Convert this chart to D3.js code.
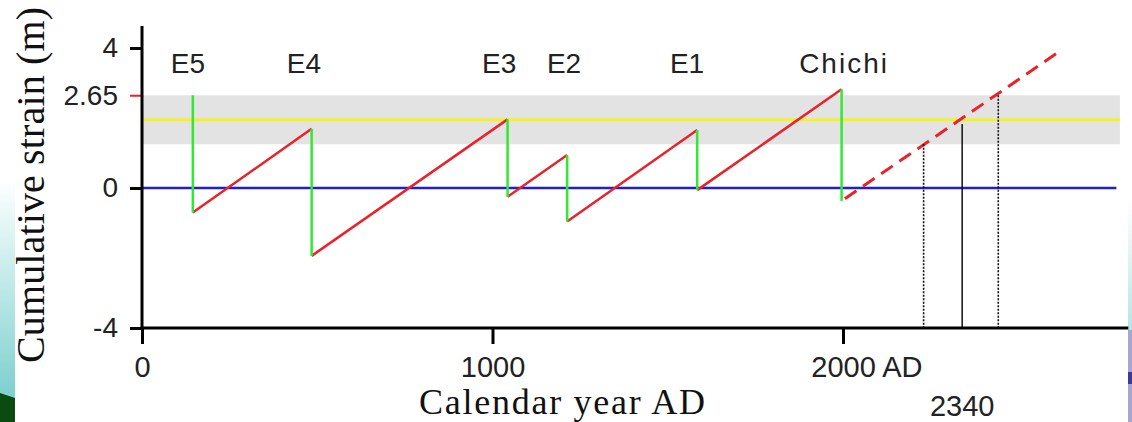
<!DOCTYPE html>
<html><head><meta charset="utf-8">
<script src="https://cdn.jsdelivr.net/npm/d3@7"></script>
<style>
html,body{margin:0;padding:0;background:#fff;}
svg{display:block;}
</style></head>
<body>
<svg id="chart" width="1132" height="422"></svg>
<script>
// ---- data ----
const events = ["E5", "E4", "E3", "E2", "E1", "Chichi"];
const eventYears = [145, 484, 1043, 1213, 1584, 1996];
const strainBefore = [2.65, 1.69, 1.96, 0.94, 1.66, 2.82];
const strainAfter = [-0.70, -1.94, -0.25, -0.96, -0.06, -0.37];
const labelYears = [131, 462, 1019, 1204, 1555, 2003];
const forecastYears = [1996, 2610];
const forecastStrain = [-0.37, 3.85];
const projYears = [2230, 2340, 2443];
const projStrain = [1.25, 1.83, 2.65];
const projDotted = [true, false, true];
const bandRange = [1.25, 2.65];
const meanStrain = 1.95;
const yTicks = [-4, 0, 2.65, 4];
const yTickLabels = ["-4", "0", "2.65", "4"];
const xTicks = [0, 1000, 2000];
const xTickLabels = ["0", "1000", "2000"];
const xEnd = 2814, bandEnd = 2790, zeroEnd = 2780, yTop = 4.63;

const svg = d3.select("#chart");
const x = d3.scaleLinear().domain([0, 2000]).range([142, 843]);
const y = d3.scaleLinear().domain([-4, 4]).range([328, 48]);

// decorations (slide background remnants)
const defs = svg.append("defs");
const g1 = defs.append("linearGradient").attr("id","lg").attr("x1",0).attr("y1",0).attr("x2",0).attr("y2",1);
g1.append("stop").attr("offset","0%").attr("stop-color","#ffffff");
g1.append("stop").attr("offset","100%").attr("stop-color","#7ccfcf");
svg.append("rect").attr("x",0).attr("y",180).attr("width",15).attr("height",220).attr("fill","url(#lg)");
svg.append("polygon").attr("points","0,393 15,398 15,422 0,422").attr("fill","#0b4a10");
const g2 = defs.append("linearGradient").attr("id","rg").attr("x1",0).attr("y1",0).attr("x2",0).attr("y2",1);
g2.append("stop").attr("offset","0%").attr("stop-color","#ffffff");
g2.append("stop").attr("offset","100%").attr("stop-color","#b8e4e4");
svg.append("rect").attr("x",1128).attr("y",200).attr("width",4).attr("height",130).attr("fill","url(#rg)");
svg.append("rect").attr("x",1128).attr("y",330).attr("width",4).attr("height",92).attr("fill","#a4a8d0");
svg.append("rect").attr("x",1128).attr("y",372).attr("width",4).attr("height",12).attr("fill","#3a3a9a");

// band + mean
svg.append("rect")
  .attr("x", x(0)).attr("width", x(bandEnd) - x(0))
  .attr("y", y(bandRange[1])).attr("height", y(bandRange[0]) - y(bandRange[1]))
  .attr("fill", "#e3e3e3");
svg.append("line").attr("x1", x(0)).attr("x2", x(bandEnd))
  .attr("y1", y(meanStrain)).attr("y2", y(meanStrain))
  .attr("stroke", "#f2f232").attr("stroke-width", 3);
svg.append("line").attr("x1", x(0)).attr("x2", x(zeroEnd))
  .attr("y1", y(0)).attr("y2", y(0))
  .attr("stroke", "#1f1fcf").attr("stroke-width", 2.5);

// red accumulation segments
const segs = d3.range(eventYears.length - 1).map(i => [
  [eventYears[i], strainAfter[i]], [eventYears[i+1], strainBefore[i+1]]
]);
const line = d3.line().x(d => x(d[0])).y(d => y(d[1]));
svg.selectAll(".acc").data(segs).join("path")
  .attr("d", line).attr("fill","none").attr("stroke","#e8232a").attr("stroke-width",2.5);

// green coseismic drops
svg.selectAll(".drop").data(eventYears).join("line")
  .attr("x1", d => x(d)).attr("x2", d => x(d))
  .attr("y1", (d,i) => y(strainBefore[i])).attr("y2", (d,i) => y(strainAfter[i]))
  .attr("stroke","#33e833").attr("stroke-width",2.5);

// forecast dashed
svg.append("path")
  .attr("d", line(forecastYears.map((d,i)=>[d, forecastStrain[i]])))
  .attr("fill","none").attr("stroke","#e8232a").attr("stroke-width",3)
  .attr("stroke-dasharray","14,8").attr("stroke-dashoffset",-4);

// projection verticals
svg.selectAll(".proj").data(projYears).join("line")
  .attr("x1", d => x(d)).attr("x2", d => x(d))
  .attr("y1", (d,i) => y(projStrain[i])).attr("y2", y(-4))
  .attr("stroke","#111").attr("stroke-width",(d,i)=>projDotted[i]?1.6:1.5)
  .attr("stroke-dasharray",(d,i)=>projDotted[i]?"2,1.5":null);

// event labels
const font = "Liberation Sans, Arial, sans-serif";
svg.selectAll(".elab").data(events).join("text")
  .attr("x",(d,i)=>x(labelYears[i])).attr("y",73)
  .attr("text-anchor","middle")
  .attr("font-family",font).attr("font-size",28)
  .attr("letter-spacing", d => d === "Chichi" ? 2 : 0)
  .attr("fill","#222").text(d=>d);

// axes
const yAxis = svg.append("g").attr("transform",`translate(${x(0)},0)`)
  .call(d3.axisLeft(y).tickValues(yTicks).tickSize(12).tickPadding(12)
    .tickFormat((d,i) => yTickLabels[i]));
yAxis.select(".domain").remove();
yAxis.selectAll(".tick line").attr("stroke",d => d===2.65 ? "#e8232a" : "#000").attr("stroke-width",d=>d===2.65?2:3);
yAxis.selectAll(".tick text").attr("font-family",font).attr("font-size",28).attr("fill","#222");

const xAxis = svg.append("g").attr("transform",`translate(0,${y(-4)})`)
  .call(d3.axisBottom(x).tickValues(xTicks).tickSize(16).tickPadding(12).tickFormat((d,i)=>xTickLabels[i]));
xAxis.select(".domain").remove();
xAxis.selectAll(".tick line").attr("stroke","#000").attr("stroke-width",3);
xAxis.selectAll(".tick text").attr("font-family",font).attr("font-size",29).attr("fill","#222");
xAxis.selectAll(".tick text").filter(d => d === 2000).each(function(){
  const t = d3.select(this);
  const w = this.getComputedTextLength();
  t.attr("text-anchor","start").attr("x", -w/2);
  t.append("tspan").text(" AD");
});

svg.append("line").attr("x1",x(0)).attr("x2",x(0)).attr("y1",y(yTop)).attr("y2",y(-4)+1.5)
  .attr("stroke","#000").attr("stroke-width",3);
svg.append("line").attr("x1",x(0)-1.5).attr("x2",x(xEnd)).attr("y1",y(-4)).attr("y2",y(-4))
  .attr("stroke","#000").attr("stroke-width",3);

// 2340 label
svg.append("text").attr("x", x(projYears[1])).attr("y",416).attr("text-anchor","middle")
  .attr("font-family",font).attr("font-size",29).attr("fill","#222").text("2340");

// titles
svg.append("text").attr("x", 562).attr("y",414)
  .attr("text-anchor","middle").attr("font-family","Liberation Serif, Times New Roman, serif")
  .attr("font-size",36).attr("textLength",286).attr("lengthAdjust","spacing")
  .attr("fill","#111").text("Calendar year AD");
svg.append("text").attr("transform","translate(44,185) rotate(-90)")
  .attr("text-anchor","middle").attr("font-family","Liberation Serif, Times New Roman, serif")
  .attr("font-size",40).attr("textLength",356).attr("lengthAdjust","spacing")
  .attr("fill","#111").text("Cumulative strain (m)");
</script>
</body></html>
